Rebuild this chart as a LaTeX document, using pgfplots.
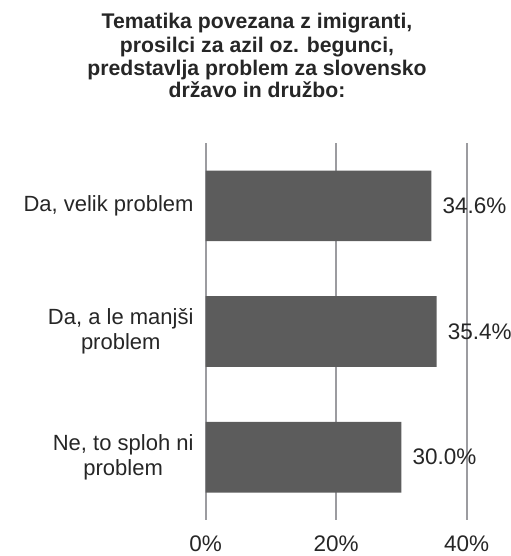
\documentclass[border=0pt]{standalone}
\usepackage{pgfplots}
\pgfplotsset{compat=1.18}
\usepackage{fontspec}
\setmainfont{Liberation Sans}

\definecolor{barfill}{HTML}{5C5C5C}
\definecolor{gridc}{HTML}{9C9CA0}
\definecolor{txt}{HTML}{262626}

\begin{document}
\begin{tikzpicture}
\useasboundingbox (0,0) rectangle (511bp,-556bp);

% title, one node per line
\begin{scope}[every node/.style={anchor=base, inner sep=0, text=txt,
    font=\fontsize{21.2bp}{24bp}\selectfont\bfseries}]
\node at (257bp,-28bp) {Tematika povezana z imigranti,};
\node at (257bp,-52bp) {prosilci za azil oz. begunci,};
\node at (257bp,-75bp) {predstavlja problem za slovensko};
\node at (257bp,-97bp) {državo in družbo:};
\end{scope}

\begin{axis}[
    at={(205.7bp,-520bp)}, anchor=south west,
    scale only axis,
    width=261bp, height=377bp,
    xbar,
    bar width=0.5625,
    xmin=0, xmax=40,
    ymin=-0.5, ymax=2.5,
    y dir=reverse,
    xtick={0,20,40},
    xticklabels={0\%,20\%,40\%},
    ytick={0,1,2},
    yticklabels={{Da, velik problem},{Da, a le manjši\\problem},{Ne, to sploh ni\\problem}},
    xmajorgrids,
    grid style={gridc, line width=1.8bp},
    axis line style={draw=none},
    major tick length=0,
    tick style={draw=none},
    xticklabel style={anchor=base, inner sep=0, yshift=-31bp,
        text=txt, font=\fontsize{22.5bp}{26bp}\selectfont},
    yticklabel style={align=center, anchor=east, inner sep=0, xshift=-12bp,
        text=txt, font=\fontsize{22bp}{25bp}\selectfont},
    /pgf/number format/assume math mode=true,
    nodes near coords={\pgfmathprintnumber[fixed,fixed zerofill,precision=1]{\pgfplotspointmeta}\%},
    every node near coord/.append style={anchor=west, inner sep=0, xshift=11bp,
        text=txt, font=\fontsize{22.5bp}{26bp}\selectfont},
    clip=false,
]
\addplot[draw=none, fill=barfill] coordinates {
    (34.6,0) (35.4,1) (30.0,2)
};
\end{axis}
\end{tikzpicture}
\end{document}
